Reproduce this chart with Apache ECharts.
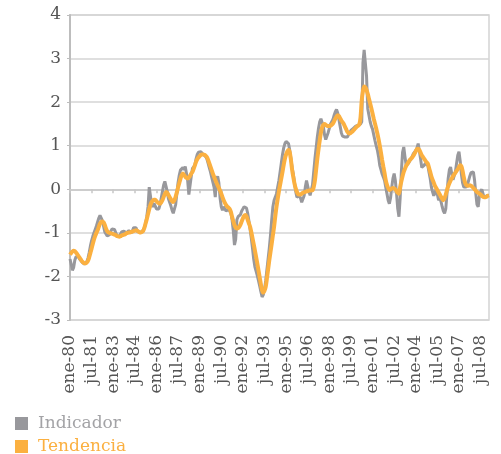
<!DOCTYPE html>
<html>
<head>
<meta charset="utf-8">
<script src="https://cdn.jsdelivr.net/npm/echarts@6/dist/echarts.min.js"></script>
<style>
  html, body { margin: 0; padding: 0; background: #fff; }
  #chart { width: 501px; height: 454px; }
</style>
</head>
<body>
<div id="chart"></div>
<script>
// meses y años del eje (ene-80 ... feb-09)
var meses = ['ene', 'feb', 'mar', 'abr', 'may', 'jun', 'jul', 'ago', 'sep', 'oct', 'nov', 'dic'];
var anioInicio = 1980;
var numMeses = 350;

// Indicador (gris), un valor por mes
var indicador = [
  -1.60,-1.72,-1.86,-1.80,-1.63,-1.55,-1.52,-1.55,-1.60,-1.64,-1.67,-1.70, // 1980
  -1.72,-1.70,-1.66,-1.58,-1.45,-1.30,-1.18,-1.08,-1.00,-0.92,-0.84,-0.75, // 1981
  -0.66,-0.60,-0.62,-0.72,-0.85,-0.98,-1.02,-1.07,-1.10,-1.04,-0.96,-0.91, // 1982
  -0.90,-0.92,-0.99,-1.06,-1.10,-1.09,-1.03,-0.98,-0.95,-0.96,-0.99,-1.00, // 1983
  -0.98,-0.95,-0.96,-1.00,-0.95,-0.88,-0.84,-0.88,-0.97,-1.00,-0.98,-0.97, // 1984
  -0.98,-0.95,-0.88,-0.78,-0.62,-0.40,0.05,0.08,-0.35,-0.40,-0.32,-0.35,   // 1985
  -0.45,-0.48,-0.45,-0.35,-0.20,-0.05,0.10,0.18,0.17,-0.05,-0.22,-0.30,    // 1986
  -0.38,-0.48,-0.55,-0.52,-0.35,-0.10,0.15,0.32,0.44,0.48,0.50,0.45,       // 1987
  0.52,0.50,0.20,-0.12,-0.10,0.30,0.48,0.44,0.55,0.70,0.80,0.85,           // 1988
  0.87,0.86,0.82,0.80,0.77,0.75,0.70,0.60,0.50,0.40,0.28,0.25,             // 1989
  0.05,-0.18,0.20,0.30,0.15,-0.20,-0.40,-0.48,-0.40,-0.44,-0.50,-0.48,     // 1990
  -0.45,-0.48,-0.55,-0.70,-0.95,-1.28,-1.15,-0.70,-0.63,-0.62,-0.58,-0.50, // 1991
  -0.45,-0.40,-0.38,-0.43,-0.55,-0.72,-0.92,-1.12,-1.35,-1.60,-1.78,-1.88, // 1992
  -1.98,-2.10,-2.22,-2.35,-2.47,-2.42,-2.30,-2.10,-1.85,-1.60,-1.35,-1.05, // 1993
  -0.70,-0.40,-0.25,-0.18,-0.10,0.05,0.20,0.40,0.60,0.80,0.95,1.05,        // 1994
  1.10,1.12,1.05,0.90,0.70,0.50,0.35,0.15,-0.05,-0.18,-0.20,-0.15,         // 1995
  -0.20,-0.30,-0.33,-0.15,0.05,0.20,0.21,-0.05,-0.14,-0.10,0.10,0.40,      // 1996
  0.70,0.95,1.20,1.40,1.55,1.62,1.60,1.45,1.25,1.14,1.16,1.30,             // 1997
  1.40,1.50,1.55,1.60,1.70,1.78,1.83,1.75,1.60,1.45,1.30,1.22,             // 1998
  1.20,1.20,1.22,1.20,1.25,1.30,1.35,1.38,1.40,1.42,1.45,1.47,             // 1999
  1.47,1.48,1.50,1.55,2.90,3.20,3.20,2.60,1.85,1.70,1.55,1.45,             // 2000
  1.38,1.25,1.12,1.00,0.90,0.75,0.55,0.45,0.35,0.28,0.20,0.05,             // 2001
  -0.10,-0.25,-0.33,-0.20,0.05,0.25,0.36,0.20,-0.10,-0.45,-0.63,-0.20,     // 2002
  0.40,0.85,0.97,0.75,0.55,0.51,0.60,0.65,0.70,0.75,0.82,0.85,             // 2003
  0.89,0.95,1.05,1.08,0.70,0.50,0.52,0.55,0.60,0.58,0.55,0.40,             // 2004
  0.25,0.05,-0.06,-0.15,-0.08,0.00,-0.12,-0.25,-0.20,-0.28,-0.40,-0.50,    // 2005
  -0.55,-0.45,-0.10,0.25,0.45,0.51,0.35,0.22,0.21,0.40,0.60,0.78,          // 2006
  0.86,0.65,0.35,0.15,0.05,0.02,0.05,0.10,0.20,0.30,0.38,0.36,             // 2007
  0.40,0.20,-0.10,-0.35,-0.40,-0.15,-0.05,0.00,-0.10,-0.20,-0.18,-0.15,    // 2008
  -0.12,-0.14                                                              // 2009
];

// Tendencia (naranja)
var tendencia = [
  -1.50,-1.46,-1.43,-1.41,-1.42,-1.45,-1.49,-1.53,-1.57,-1.61,-1.65,-1.68, // 1980
  -1.70,-1.70,-1.68,-1.64,-1.56,-1.46,-1.36,-1.25,-1.15,-1.07,-1.00,-0.94, // 1981
  -0.86,-0.79,-0.75,-0.74,-0.76,-0.82,-0.90,-0.96,-0.99,-1.00,-1.01,-1.02, // 1982
  -1.03,-1.04,-1.05,-1.07,-1.08,-1.09,-1.08,-1.06,-1.05,-1.04,-1.03,-1.01, // 1983
  -1.00,-0.99,-0.99,-0.98,-0.97,-0.96,-0.95,-0.94,-0.95,-0.97,-0.99,-0.99, // 1984
  -0.98,-0.95,-0.88,-0.78,-0.68,-0.57,-0.46,-0.36,-0.29,-0.26,-0.24,-0.24, // 1985
  -0.27,-0.30,-0.32,-0.33,-0.30,-0.25,-0.18,-0.11,-0.06,-0.08,-0.13,-0.18, // 1986
  -0.23,-0.27,-0.29,-0.25,-0.17,-0.07,0.04,0.14,0.24,0.32,0.36,0.33,       // 1987
  0.29,0.26,0.25,0.27,0.31,0.36,0.40,0.47,0.55,0.63,0.69,0.73,             // 1988
  0.76,0.79,0.80,0.80,0.79,0.77,0.74,0.68,0.60,0.52,0.44,0.36,             // 1989
  0.29,0.22,0.15,0.09,0.03,-0.03,-0.10,-0.18,-0.25,-0.31,-0.36,-0.40,      // 1990
  -0.42,-0.45,-0.52,-0.63,-0.73,-0.82,-0.88,-0.90,-0.89,-0.86,-0.81,-0.74, // 1991
  -0.67,-0.61,-0.59,-0.62,-0.70,-0.78,-0.86,-0.98,-1.12,-1.26,-1.40,-1.55, // 1992
  -1.70,-1.86,-2.02,-2.18,-2.32,-2.37,-2.33,-2.24,-2.05,-1.84,-1.63,-1.44, // 1993
  -1.25,-1.05,-0.86,-0.62,-0.40,-0.22,-0.05,0.10,0.25,0.40,0.56,0.70,      // 1994
  0.80,0.87,0.90,0.85,0.68,0.45,0.28,0.13,0.02,-0.06,-0.11,-0.12,          // 1995
  -0.12,-0.10,-0.08,-0.07,-0.06,-0.05,-0.04,-0.03,-0.03,-0.02,-0.02,0.05,  // 1996
  0.20,0.45,0.70,0.92,1.12,1.30,1.42,1.48,1.50,1.48,1.46,1.45,             // 1997
  1.45,1.46,1.48,1.51,1.56,1.62,1.67,1.70,1.68,1.63,1.58,1.54,             // 1998
  1.50,1.44,1.38,1.32,1.29,1.28,1.30,1.32,1.35,1.38,1.41,1.44,             // 1999
  1.46,1.49,1.65,2.04,2.25,2.36,2.34,2.28,2.19,2.08,1.97,1.86,             // 2000
  1.74,1.62,1.51,1.40,1.28,1.15,1.00,0.84,0.67,0.52,0.37,0.21,             // 2001
  0.10,0.03,-0.02,0.00,0.02,0.03,0.02,0.00,-0.04,-0.08,-0.10,0.05,         // 2002
  0.18,0.30,0.40,0.47,0.54,0.58,0.63,0.67,0.70,0.73,0.77,0.82,             // 2003
  0.87,0.92,0.93,0.90,0.84,0.78,0.74,0.70,0.66,0.62,0.59,0.50,             // 2004
  0.40,0.30,0.22,0.15,0.08,0.03,-0.02,-0.07,-0.12,-0.17,-0.22,-0.25,       // 2005
  -0.20,-0.12,-0.02,0.07,0.14,0.20,0.25,0.30,0.34,0.38,0.42,0.46,          // 2006
  0.51,0.55,0.53,0.42,0.28,0.16,0.10,0.08,0.08,0.09,0.08,0.06,             // 2007
  0.03,0.00,-0.03,-0.06,-0.08,-0.10,-0.12,-0.15,-0.17,-0.18,-0.18,-0.17,   // 2008
  -0.15,-0.14                                                              // 2009
];

var categorias = [];
for (var i = 0; i < numMeses; i++) {
  var anio = anioInicio + Math.floor(i / 12);
  categorias.push(meses[i % 12] + '-' + String(anio).slice(2));
}

var fuente = 'DejaVu Serif';
var gris = '#98989c';
var naranja = '#fbb040';

var myChart = echarts.init(document.getElementById('chart'));
myChart.setOption({
  animation: false,
  grid: {
    left: 70,
    right: 12,
    top: 15,
    bottom: 134,
    show: true,
    borderColor: '#d4d4d4',
    borderWidth: 1.5
  },
  legend: {
    orient: 'vertical',
    left: 15,
    top: 415,
    height: 60,
    padding: 0,
    itemWidth: 13,
    itemHeight: 13,
    itemGap: 6,
    icon: 'rect',
    textStyle: { fontFamily: fuente, fontSize: 17, lineHeight: 15, padding: [0, 0, 0, 5] },
    data: [
      { name: 'Indicador', textStyle: { color: '#a3a3a6' } },
      { name: 'Tendencia', textStyle: { color: naranja } }
    ]
  },
  xAxis: [{
    type: 'category',
    data: categorias,
    boundaryGap: false,
    position: 'bottom',
    axisLine: { show: false, onZero: false },
    axisTick: { show: false },
    splitLine: { show: false },
    axisLabel: {
      interval: 17,
      rotate: 90,
      margin: 15,
      color: '#555',
      fontFamily: fuente,
      fontSize: 17
    }
  }, {
    type: 'category',
    data: categorias,
    boundaryGap: false,
    position: 'bottom',
    axisLine: { show: true, onZero: true, lineStyle: { color: '#c8c8c8', width: 1.5 } },
    axisTick: { show: true, interval: 17, length: 4, lineStyle: { color: '#c8c8c8', width: 1.5 } },
    axisLabel: { show: false },
    splitLine: { show: false }
  }],
  yAxis: {
    type: 'value',
    min: -3,
    max: 4,
    interval: 1,
    axisLine: { show: true, lineStyle: { color: '#bdbdbd', width: 2 } },
    axisTick: { show: true, length: 3, lineStyle: { color: '#bdbdbd' } },
    splitLine: { lineStyle: { color: '#d4d4d4', width: 1.5 } },
    axisLabel: {
      margin: 9,
      color: '#555',
      fontFamily: fuente,
      fontSize: 17
    }
  },
  series: [{
    name: 'Indicador',
    type: 'line',
    xAxisIndex: 0,
    data: indicador,
    showSymbol: false,
    itemStyle: { color: gris },
    lineStyle: { color: gris, width: 3 }
  }, {
    name: 'Tendencia',
    type: 'line',
    xAxisIndex: 0,
    data: tendencia,
    showSymbol: false,
    smooth: 0.3,
    itemStyle: { color: naranja },
    lineStyle: { color: naranja, width: 4 }
  }]
});
</script>
</body>
</html>
